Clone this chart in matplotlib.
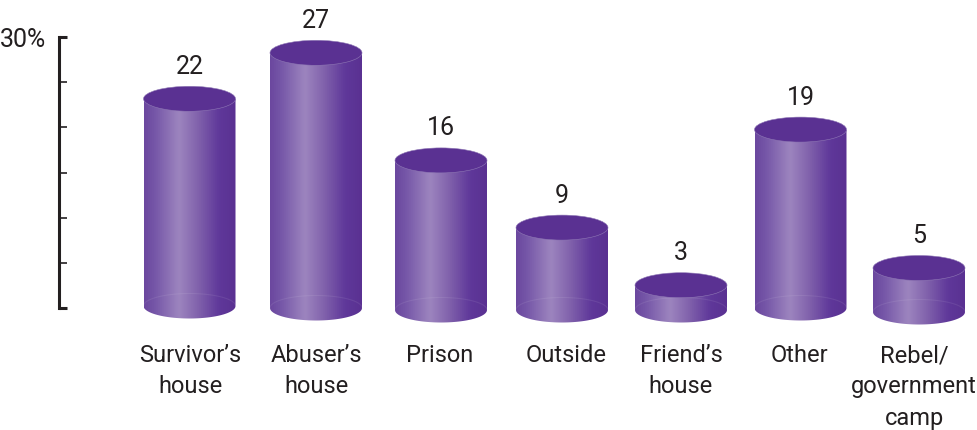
import numpy as np
import matplotlib
matplotlib.use("Agg")
import matplotlib.pyplot as plt
from matplotlib.colors import LinearSegmentedColormap
from matplotlib.patches import Ellipse, Polygon

categories = ["Survivor\u2019s\nhouse", "Abuser\u2019s\nhouse", "Prison", "Outside",
              "Friend\u2019s\nhouse", "Other", "Rebel/\ngovernment\ncamp"]
values = [22, 27, 16, 9, 3, 19, 5]
axis_ticks = [0, 5, 10, 15, 20, 25, 30]
axis_labels = ["", "", "", "", "", "", "30%"]

# layout, in reference pixels
W, H = 978, 430
centers = [189.5, 316, 441, 562, 681, 800.5, 919]
label_x = [190, 316, 440, 566, 681, 799, 914]
bases_px = [306, 308, 310, 310, 310, 308, 312]
half_w = 46
half_h = 12.5
zero_px, full_px = 308, 37
unit_px = (zero_px - full_px) / 30  # pixels per percent on the axis
bar_unit_px = 9.6  # the cylinders were drawn a little taller than the axis
bar_inset_px = 4

TEXT = "#231f20"
TOP = "#5a3192"
shade = LinearSegmentedColormap.from_list("cyl", [
    (0.0, "#6b479f"), (0.12, "#7657a8"), (0.38, "#9d85bf"), (0.6, "#7f60ab"),
    (0.82, "#5f389a"), (1.0, "#5a3192")])

plt.rcParams["font.family"] = ["Roboto", "DejaVu Sans"]

fig = plt.figure(figsize=(W / 100, H / 100), dpi=100)
ax = fig.add_axes([0, 0, 1, 1])


def py(px):
    """Reference pixel row -> axis value."""
    return (zero_px - px) / unit_px


# fine vertical streaks like the banding in the original blend
u = np.linspace(0, 1, 184)
streaks = 0.014 * np.sin(u * 430) + 0.012 * np.sin(u * 290 + 1.3)

for cx, base_px, v in zip(centers, bases_px, values):
    top_px = base_px - (v * bar_unit_px - bar_inset_px)
    t = np.linspace(np.pi, 0, 60)
    xs = cx + half_w * np.cos(t)
    low = py(base_px + half_h * np.sin(t))
    body = Polygon(np.r_[np.c_[xs, low], [[cx + half_w, py(top_px)], [cx - half_w, py(top_px)]]],
                   transform=ax.transData, fc="none", ec="none")
    ax.add_patch(body)
    img = ax.imshow((u + streaks)[None, :], cmap=shade, vmin=0, vmax=1, aspect="auto",
                    extent=[cx - half_w, cx + half_w, py(base_px + half_h), py(top_px)],
                    interpolation="bilinear", zorder=2)
    img.set_clip_path(body)
    # faint back edge of the base
    ax.plot(xs, py(base_px - half_h * np.sin(t)), color="white", alpha=0.08, lw=0.8, zorder=3)
    ax.add_patch(Ellipse((cx, py(top_px)), 2 * half_w, 2 * half_h / unit_px,
                         fc=TOP, ec="#8f78b5", lw=0.4, zorder=4))
    ax.text(cx, py(top_px - 32), str(v), ha="center", va="center", fontsize=18, color=TEXT)

ax.set_xlim(0, W)
ax.set_ylim(py(H), py(0))

for side in ["top", "right"]:
    ax.spines[side].set_visible(False)
ax.spines["left"].set_position(("data", 59))
ax.spines["left"].set_bounds(0, 30)
ax.spines["left"].set_linewidth(2.2)
ax.spines["left"].set_color(TEXT)
ax.spines["bottom"].set_visible(False)
ax.spines["bottom"].set_position(("data", py(344)))

ax.set_yticks(axis_ticks, axis_labels)
ax.tick_params(axis="y", direction="in", length=6, width=1.2, color=TEXT, pad=9,
               labelsize=18, labelcolor=TEXT)
for i in (0, -1):
    ax.yaxis.get_major_ticks()[i].tick1line.set_markeredgewidth(2.2)
ax.set_xticks(label_x, categories)
ax.tick_params(axis="x", length=0, pad=0, labelsize=17, labelcolor=TEXT)
for lab in ax.get_xticklabels():
    lab.set_linespacing(1.46)

fig.savefig("out.png", dpi=100)
